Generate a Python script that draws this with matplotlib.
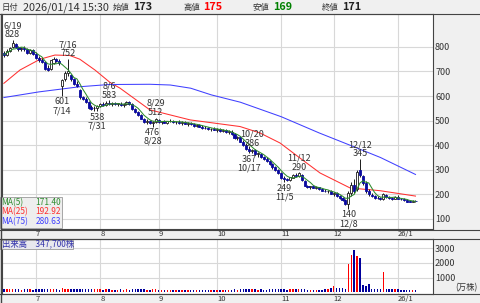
import numpy as np
import pandas as pd
import matplotlib
matplotlib.use("Agg")
import matplotlib.pyplot as plt

plt.rcParams['font.family'] = ['Noto Sans CJK JP', 'DejaVu Sans']

# daily bars 2025/06/16 .. 2026/01/14 (trading days only)
opens = [775, 768, 785, 800, 812, 798, 790, 795, 790, 776, 786,
         772, 755, 748, 738, 715, 710, 735, 750, 742, 640, 668, 692, 685, 668, 650, 625, 598, 590, 575, 555, 550, 550,
         560, 568, 565, 572, 568, 570, 566, 568, 564, 567, 574, 566, 548, 535, 522, 508, 495, 498, 490, 496,
         502, 494, 497, 492, 498, 500, 494, 496, 490, 494, 488, 490, 485, 480, 483, 476, 472, 470, 466, 468,
         463, 465, 458, 460, 452, 455, 444, 430, 432, 415, 402, 385, 378, 380, 365, 366, 352, 342, 335, 322, 310, 298,
         286, 266, 262, 258, 268, 278, 276, 280, 256, 236, 230, 232, 226, 228, 222, 215, 212, 213,
         203, 205, 192, 185, 178, 160, 205, 240, 220, 300, 275, 248, 212, 198, 192, 186, 184, 180, 198, 188, 185, 182,
         188, 182, 180, 176, 172, 170, 173]
highs = [785, 790, 800, 828, 818, 805, 800, 805, 795, 792, 790,
         780, 765, 756, 742, 728, 748, 758, 755, 750, 670, 700, 752, 690, 672, 660, 630, 602, 595, 580, 565, 560, 565,
         572, 575, 578, 583, 575, 576, 572, 574, 570, 578, 578, 570, 552, 540, 528, 512, 505, 502, 500, 512,
         508, 500, 504, 500, 506, 504, 500, 502, 497, 500, 494, 495, 490, 488, 488, 482, 478, 476, 472, 474,
         470, 470, 465, 466, 460, 460, 448, 438, 436, 420, 408, 395, 386, 384, 372, 370, 358, 350, 340, 328, 315, 305,
         290, 275, 268, 272, 282, 286, 290, 282, 258, 240, 236, 235, 232, 230, 226, 220, 218, 216,
         210, 208, 198, 190, 182, 215, 250, 262, 300, 345, 280, 255, 222, 205, 196, 192, 190, 205, 202, 192, 190, 195,
         196, 186, 185, 180, 176, 175, 175]
lows = [760, 765, 778, 795, 795, 785, 782, 785, 770, 772, 768,
        750, 740, 735, 705, 704, 708, 730, 738, 728, 601, 660, 680, 660, 645, 635, 590, 585, 570, 548, 545, 540, 538,
        555, 560, 558, 565, 560, 562, 558, 560, 556, 562, 565, 545, 530, 520, 505, 492, 488, 485, 476, 490,
        490, 486, 490, 486, 493, 490, 486, 488, 483, 487, 480, 482, 476, 474, 474, 468, 464, 462, 458, 460,
        455, 455, 452, 448, 445, 440, 425, 420, 412, 398, 380, 367, 370, 362, 352, 348, 338, 330, 318, 305, 295, 282,
        262, 249, 255, 255, 265, 272, 270, 255, 232, 225, 222, 224, 220, 218, 212, 208, 205, 200,
        195, 190, 180, 172, 155, 140, 195, 205, 215, 270, 240, 205, 195, 188, 182, 180, 178, 178, 185, 180, 178, 180,
        180, 176, 174, 170, 168, 168, 169]
closes = [768, 785, 796, 815, 798, 790, 796, 790, 775, 788, 772,
          755, 745, 738, 710, 708, 745, 752, 742, 735, 665, 692, 700, 668, 650, 640, 595, 590, 575, 552, 548, 552, 560,
          568, 565, 572, 568, 570, 566, 570, 563, 568, 575, 567, 548, 535, 524, 508, 495, 500, 490, 496, 505,
          494, 497, 492, 498, 500, 494, 496, 490, 494, 488, 490, 485, 480, 484, 476, 472, 470, 466, 468, 463,
          465, 458, 460, 452, 456, 444, 430, 434, 415, 402, 385, 378, 382, 365, 368, 352, 342, 335, 322, 310, 298, 286,
          266, 262, 258, 270, 278, 275, 285, 258, 236, 230, 232, 226, 228, 222, 215, 212, 214, 203,
          206, 192, 185, 178, 160, 205, 240, 215, 292, 280, 248, 212, 200, 192, 186, 184, 182, 200, 188, 185, 182, 190,
          182, 180, 175, 170, 169, 172, 171]
# in 10,000 shares
volumes = [210, 200, 220, 240, 210, 200, 190, 200, 210, 200, 190,
           220, 210, 200, 240, 220, 210, 200, 200, 190, 260, 230, 250, 220, 210, 200, 230, 210, 200, 220, 210, 200, 210,
           200, 190, 200, 210, 190, 190, 190, 200, 190, 200, 190, 210, 200, 200, 210, 200, 190, 190, 210, 200,
           190, 180, 180, 180, 190, 180, 180, 180, 180, 180, 180, 180, 190, 180, 180, 180, 180, 180, 180, 180,
           180, 180, 180, 190, 180, 190, 200, 190, 200, 210, 220, 230, 200, 200, 190, 200, 190, 190, 200, 200, 200, 200,
           210, 200, 190, 200, 200, 200, 210, 200, 200, 190, 180, 180, 180, 180, 190, 200, 240, 260,
           400, 260, 260, 300, 250, 1900, 2550, 2900, 2500, 2350, 530, 450, 580, 250, 200, 200, 200, 1370, 230, 230, 230, 230,
           200, 180, 170, 180, 170, 170, 140]

# moving averages (bar index, price)
ma25_idx = [0, 5.5, 12.4, 17.5, 22.6, 26, 31.2, 36.3, 39.8, 50, 63.8, 80.9, 87.7, 94.6, 101.4, 108.3, 118.6, 128.8, 141]
ma25_val = [652, 706, 750, 767, 765, 750, 706, 656, 632, 544, 503, 476, 450, 409, 348, 287, 226, 215, 193]
ma75_idx = [0, 12, 26, 36, 50, 57, 64, 71, 81, 95, 108, 119, 129, 141]
ma75_val = [594, 617, 638, 647, 648, 645, 632, 605, 575, 516, 450, 398, 350, 281]
ma_names = ['MA(5)', 'MA(25)', 'MA(75)']
ma_last = ['171.40', '192.92', '280.63']
ma_colors = ['#2e8b2e', '#ff3030', '#4040ff']

month_pos = [11, 33, 53, 73, 95, 113, 135]
month_lbl = ['7', '8', '9', '10', '11', '12', '26/1']

# (bar index, date, value, high/low)
marks = [(3, '6/19', 828, 'h'), (22, '7/16', 752, 'h'), (20, '7/14', 601, 'l'), (32, '7/31', 538, 'l'),
         (36, '8/6', 583, 'h'), (51, '8/28', 476, 'l'), (52, '8/29', 512, 'h'), (84, '10/17', 367, 'l'),
         (85, '10/20', 386, 'h'), (96, '11/5', 249, 'l'), (101, '11/12', 290, 'h'), (118, '12/8', 140, 'l'),
         (122, '12/12', 345, 'h')]

W, H = 480, 303
fig = plt.figure(figsize=(W / 100, H / 100), dpi=100, facecolor='#f0f0f0')


def px_axes(x0, y0, x1, y1, **kw):
    return fig.add_axes([x0 / W, 1 - y1 / H, (x1 - x0) / W, (y1 - y0) / H], **kw)


ax = px_axes(2, 14, 433, 229)
axv = px_axes(2, 239, 433, 294)

o = np.array(opens)
h = np.array(highs)
l = np.array(lows)
c = np.array(closes)
x = np.arange(len(c))
up = c >= o
wick = '#1a1a1a'
down_col = '#0a0aa0'

ax.vlines(x, l, h, color=wick, lw=0.7, zorder=3)
body_lo = np.minimum(o, c)
body_h = np.maximum(np.abs(c - o), 1.5)
ax.bar(x[up], body_h[up], bottom=body_lo[up], width=0.7, facecolor='white', edgecolor=wick, lw=0.6, zorder=4)
ax.bar(x[~up], body_h[~up], bottom=body_lo[~up], width=0.7, facecolor=down_col, edgecolor=down_col, lw=0.6, zorder=4)

ma5 = pd.Series(c).rolling(5, min_periods=1).mean()
ax.plot(x, ma5, color=ma_colors[0], lw=0.75, zorder=5)
ax.plot(ma25_idx, ma25_val, color=ma_colors[1], lw=0.75, zorder=2)
ax.plot(ma75_idx, ma75_val, color=ma_colors[2], lw=0.75, zorder=2)

for i, d, v, kind in marks:
    if kind == 'h':
        ax.annotate(f'{d}\n{v}', xy=(i, v), xytext=(0, 0.5), textcoords='offset points',
                    ha='center', va='bottom', fontsize=6.5, color='#333333', linespacing=1.0, zorder=6)
    else:
        ax.annotate(f'{v}\n{d}', xy=(i, v), xytext=(0, -1), textcoords='offset points',
                    ha='center', va='top', fontsize=6.5, color='#333333', linespacing=1.0, zorder=6)

ax.set_ylim(59, 934)
ax.set_yticks(range(100, 900, 100))
vcol = np.where(up, '#ff0000', '#00009c')
axv.bar(x, volumes, width=0.5, color=vcol, zorder=3)
axv.set_ylim(-115, 3626)
axv.set_yticks([1000, 2000, 3000])

for a in (ax, axv):
    a.set_xlim(-0.65, 147)
    a.set_xticks(month_pos)
    a.set_xticklabels(month_lbl, ha='left')
    a.yaxis.tick_right()
    a.tick_params(length=0, labelsize=6.5, colors='#333333', pad=1.5)
    a.tick_params(axis='x', pad=0.6, labelsize=5.5)
    a.grid(True, color='#d8d8d8', lw=0.8, zorder=0)
    for s in a.spines.values():
        s.set_color('#444444')
        s.set_linewidth(0.8)

# chrome drawn in pixel coordinates
ov = fig.add_axes([0, 0, 1, 1], zorder=10)
ov.set_xlim(0, W)
ov.set_ylim(H, 0)
ov.axis('off')
ov.patch.set_alpha(0)
for yy in (229.5, 239, 294):
    ov.plot([0, W], [yy, yy], color='#444444', lw=0.8)
ov.plot([0.5, 0.5], [14, 303], color='#444444', lw=1)
ov.plot([0, W], [14, 14], color='#444444', lw=0.8)

ov.text(2, 7.5, '日付', fontsize=6, va='center', color='#333333')
ov.text(23, 7.5, '2026/01/14 15:30', fontsize=7.8, va='center', color='#333333')
for lab, val, col, x0 in [('始値', '173', '#222222', 113), ('高値', '175', '#ff0000', 183),
                          ('安値', '169', '#008000', 253), ('終値', '171', '#222222', 322)]:
    ov.text(x0, 7.5, lab, fontsize=6, va='center', color='#333333')
    ov.text(x0 + 20, 7.5, val, fontsize=7.8, va='center', color=col, fontweight='bold')

ov.add_patch(plt.Rectangle((0, 197), 62, 31, facecolor='#eeeeee', edgecolor='#999999', lw=0.6))
for k in range(3):
    yy = 202.5 + k * 9.5
    ov.text(1.5, yy, ma_names[k], fontsize=6, va='center', color=ma_colors[k])
    ov.text(61, yy, ma_last[k], fontsize=6, va='center', ha='right', color=ma_colors[k])

ov.add_patch(plt.Rectangle((0, 239.5), 73, 9, facecolor='#e8e8ee', edgecolor='#999999', lw=0.6))
ov.text(1.5, 244, '出来高　347,700株', fontsize=6, va='center', color='#3333aa')
ov.text(478, 287.5, '(万株)', fontsize=6, va='center', ha='right', color='#333333')

fig.savefig('out.png', dpi=100, facecolor=fig.get_facecolor())
